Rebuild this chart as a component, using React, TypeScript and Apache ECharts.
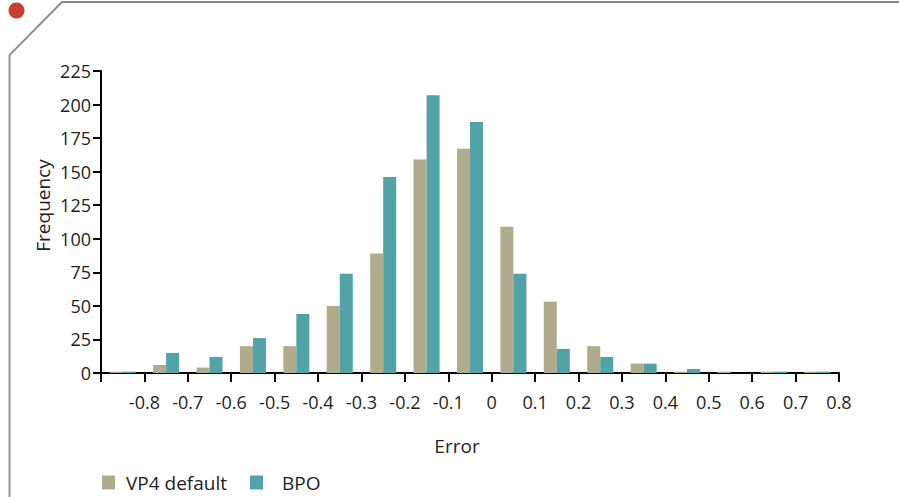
import React, { useEffect, useRef } from "react";
import * as echarts from "echarts";

// Bin starts (each bin is 0.1 wide)
const bins = ["-0.9", "-0.8", "-0.7", "-0.6", "-0.5", "-0.4", "-0.3", "-0.2", "-0.1", "0", "0.1", "0.2", "0.3", "0.4", "0.5", "0.6", "0.7"];
const vp4Default = [1, 6, 4, 20, 20, 50, 89, 159, 167, 109, 53, 20, 7, 1, 1, 1, 1];
const bpo = [1, 15, 12, 26, 44, 74, 146, 207, 187, 74, 18, 12, 7, 3, 0, 1, 1];
const seriesNames = ["VP4 default", "BPO"];
const xMin = -0.9;
const xMax = 0.8;
const xStep = 0.1;
const yMax = 225;
const yStep = 25;

const FONT = "'Open Sans', 'Noto Sans', sans-serif";
const TEXT = "#231f20";
const BEIGE = "#b0ab8c";
const TEAL = "#52a3a8";

export default function App() {
  const ref = useRef<HTMLDivElement>(null);
  useEffect(() => {
    if (!ref.current) return;
    const chart = echarts.init(ref.current, undefined, { renderer: "svg" });
    chart.setOption({
      animation: false,
      backgroundColor: "#ffffff",
      textStyle: { fontFamily: FONT, color: TEXT },
      grid: { left: 101, right: 60, top: 71, bottom: 124 },
      legend: {
        left: 102,
        top: 473,
        padding: 0,
        itemWidth: 13,
        itemHeight: 14,
        itemGap: 23,
        icon: "rect",
        textStyle: { fontFamily: FONT, fontSize: 19, color: TEXT },
        data: [
          { name: seriesNames[0], textStyle: { padding: [0, 0, 0, 6] } },
          { name: seriesNames[1], textStyle: { padding: [0, 0, 0, 14] } },
        ],
      },
      xAxis: [
        {
          type: "category",
          data: bins,
          boundaryGap: true,
          axisLine: { show: false },
          axisTick: { show: false },
          axisLabel: { show: false },
          splitLine: { show: false },
        },
        {
          type: "value",
          position: "bottom",
          min: xMin,
          max: xMax,
          interval: xStep,
          axisLine: { show: true, onZero: false, lineStyle: { color: "#000", width: 2 } },
          axisTick: { show: true, inside: false, length: 9, lineStyle: { color: "#000", width: 2 } },
          axisLabel: {
            margin: 20,
            fontSize: 18,
            fontFamily: FONT,
            color: TEXT,
            formatter: (v: number) =>
              Math.abs(v - xMin) < 1e-6 ? "" : String(Math.round(v * 10) / 10),
          },
          splitLine: { show: false },
        },
      ],
      yAxis: {
        type: "value",
        min: 0,
        max: yMax,
        interval: yStep,
        axisLine: { show: true, onZero: false, lineStyle: { color: "#000", width: 2 } },
        axisTick: { show: true, inside: false, length: 8, lineStyle: { color: "#000", width: 2 } },
        axisLabel: { margin: 10, fontSize: 18, fontFamily: FONT, color: TEXT },
        splitLine: { show: false },
      },
      series: [
        {
          name: seriesNames[0],
          type: "bar",
          xAxisIndex: 0,
          data: vp4Default,
          itemStyle: { color: BEIGE },
          barGap: "0%",
          barCategoryGap: "40%",
        },
        {
          name: seriesNames[1],
          type: "bar",
          xAxisIndex: 0,
          data: bpo,
          itemStyle: { color: TEAL },
          barGap: "0%",
          barCategoryGap: "40%",
        },
      ],
      graphic: [
        {
          type: "polyline",
          silent: true,
          shape: { points: [[899, 2], [62, 2], [9.5, 55], [9.5, 497]] },
          style: { stroke: "#8a8a8a", lineWidth: 1.8, fill: "none" },
        },
        {
          type: "circle",
          silent: true,
          shape: { cx: 16.5, cy: 10.5, r: 8 },
          style: { fill: "#c8402d" },
        },
        {
          type: "text",
          silent: true,
          x: 457,
          y: 445.5,
          style: {
            text: "Error",
            fontFamily: FONT,
            fontSize: 19,
            fill: TEXT,
            align: "center",
            verticalAlign: "middle",
          },
        },
        {
          type: "text",
          silent: true,
          x: 43,
          y: 205.5,
          rotation: Math.PI / 2,
          style: {
            text: "Frequency",
            fontFamily: FONT,
            fontSize: 19,
            fill: TEXT,
            align: "center",
            verticalAlign: "middle",
          },
        },
      ],
    });
    return () => chart.dispose();
  }, []);
  return (
    <div
      ref={ref}
      style={{ position: "fixed", left: 0, top: 0, width: 899, height: 497 }}
    />
  );
}
